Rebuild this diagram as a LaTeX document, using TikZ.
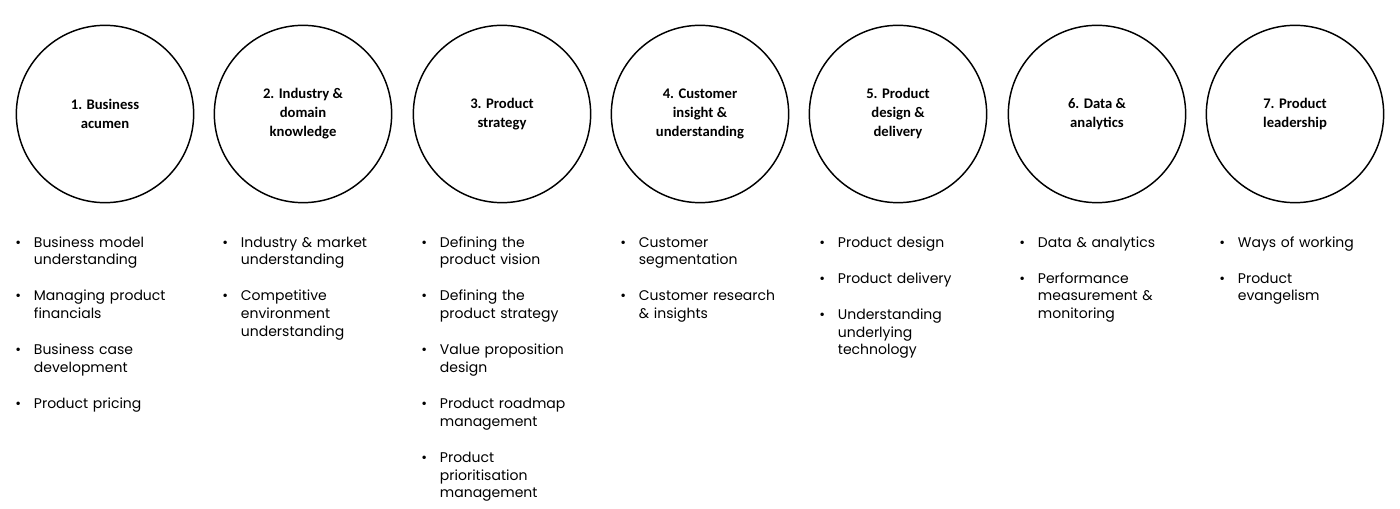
\documentclass[tikz,border=0pt]{standalone}
\usepackage{fontspec}
\setmainfont{Poppins}
\newfontfamily\headfont{Carlito}
\usetikzlibrary{positioning}

% one bullet point of a topic list
\newcommand\topic[1]{\hangindent=14pt\hangafter=1\noindent
  \makebox[14pt][l]{\textbullet}\strut#1\par\vspace{14pt}}

\tikzset{
  skill/.style={circle, draw, line width=1.1pt, minimum size=133pt,
    inner sep=0pt, align=center,
    font=\headfont\bfseries\fontsize{11}{14.25}\selectfont},
  topics/.style={anchor=north west, inner sep=0pt, text width=135pt,
    align=left, font=\fontsize{10.5}{13.2}\selectfont}
}

\begin{document}
\begin{tikzpicture}[x=0.75pt, y=-0.75pt]
  \useasboundingbox (0,0) rectangle (1400,509);

  % skill circles
  \node[skill] (c1) at (105,114) {1. Business\\acumen};
  \node[skill] (c2) at (303,114) {2. Industry \&\\domain\\knowledge};
  \node[skill] (c3) at (502,114) {3. Product\\strategy};
  \node[skill] (c4) at (700,114) {4. Customer\\insight \&\\understanding};
  \node[skill] (c5) at (898,114) {5. Product\\design \&\\delivery};
  \node[skill] (c6) at (1097,114) {6. Data \&\\analytics};
  \node[skill] (c7) at (1295,114) {7. Product\\leadership};

  % topic lists
  \node[topics] (t1) at (15,234.5) {%
    \topic{Business model\newline understanding}
    \topic{Managing product\newline financials}
    \topic{Business case\newline development}
    \topic{Product pricing}};
  \node[topics] (t2) at (222,234.5) {%
    \topic{Industry \& market\newline understanding}
    \topic{Competitive\newline environment\newline understanding}};
  \node[topics] (t3) at (421,234.5) {%
    \topic{Defining the\newline product vision}
    \topic{Defining the\newline product strategy}
    \topic{Value proposition\newline design}
    \topic{Product roadmap\newline management}
    \topic{Product\newline prioritisation\newline management}};
  \node[topics] (t4) at (620,234.5) {%
    \topic{Customer\newline segmentation}
    \topic{Customer research\newline \& insights}};
  \node[topics] (t5) at (819,234.5) {%
    \topic{Product design}
    \topic{Product delivery}
    \topic{Understanding\newline underlying\newline technology}};
  \node[topics] (t6) at (1019,234.5) {%
    \topic{Data \& analytics}
    \topic{Performance\newline measurement \&\newline monitoring}};
  \node[topics] (t7) at (1219,234.5) {%
    \topic{Ways of working}
    \topic{Product\newline evangelism}};
\end{tikzpicture}
\end{document}
